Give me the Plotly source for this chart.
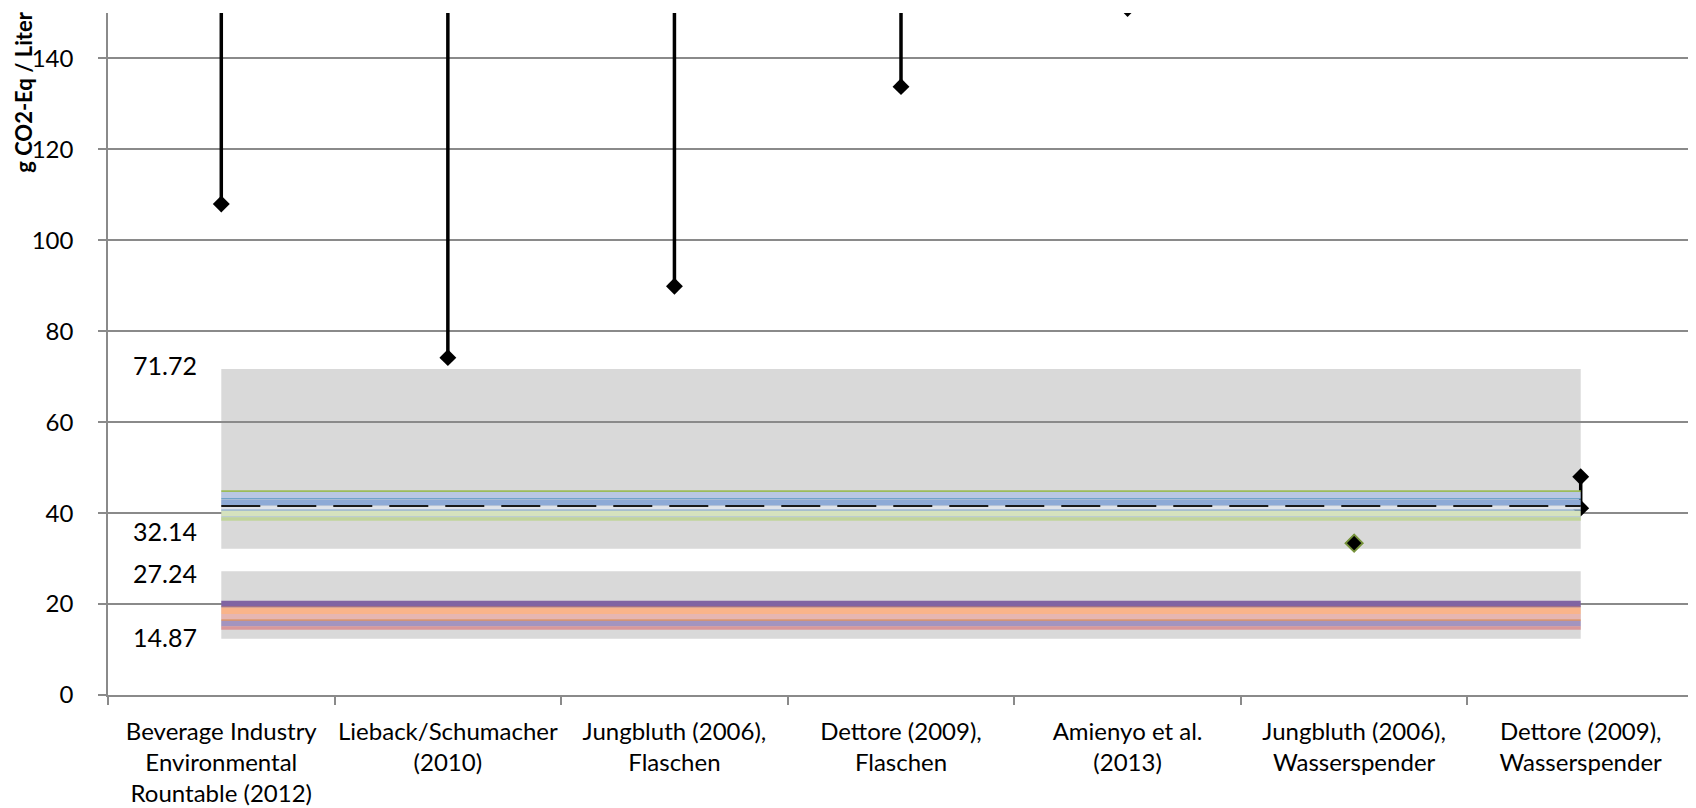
import plotly.graph_objects as go

# ---------------- data ----------------
categories = [
    "Beverage Industry<br>Environmental<br>Rountable (2012)",
    "Lieback/Schumacher<br>(2010)",
    "Jungbluth (2006),<br>Flaschen",
    "Dettore (2009),<br>Flaschen",
    "Amienyo et al.<br>(2013)",
    "Jungbluth (2006),<br>Wasserspender",
    "Dettore (2009),<br>Wasserspender",
]
range_low = [108.0, 74.2, 89.9, 133.8, 151.0, 33.4, 41.1]
range_high = [260.0, 260.0, 260.0, 260.0, 260.0, 33.4, 48.0]

# gray ranges (bottom, top)
box_bottom = [32.14, 12.37]
box_top = [71.72, 27.24]
box_label_values = [71.72, 32.14, 27.24, 14.87]
box_label_texts = ["71.72", "32.14", "27.24", "14.87"]

# horizontal level series (constant over categories)
upper_levels = [44.85, 43.99, 43.18, 42.36, 41.13, 40.65, 39.92, 39.17, 38.71]
mean_level = 41.57
lower_levels = [20.07, 19.35, 18.49, 17.21, 16.48, 15.71, 14.72]

y_ticks = [0, 20, 40, 60, 80, 100, 120, 140]

# ---------------- styles ----------------
upper_styles = [
    ("#9bbb59", 1.6), ("#b8c7e2", 6.0), ("#6fa3c9", 1.4), ("#8eaad6", 6.0),
    ("#dfe3ea", 3.5), ("#7fa4cf", 1.3), ("#d5e2be", 5.7), ("#a9c4cc", 1.0),
    ("#c1d49b", 3.4),
]
lower_styles = [
    ("#8064a2", 6.0), ("#b0605a", 1.2), ("#f9b48a", 6.3), ("#e6b6b1", 5.4),
    ("#e07b39", 1.3), ("#a394bf", 5.7), ("#d9979a", 3.4),
]
marker_outline = ["#000000"] * 5 + ["#77933c", "#000000"]

FONT = "Lato"
x_idx = list(range(len(categories)))

fig = go.Figure()

# high-low lines with diamond markers
for i in x_idx:
    fig.add_trace(go.Scatter(
        x=[i, i], y=[range_low[i], range_high[i]],
        mode="lines+markers",
        line=dict(color="#000000", width=3.5),
        marker=dict(symbol="diamond", size=13, color="#000000",
                    line=dict(color=marker_outline[i], width=1.8 if i == 5 else 0)),
        showlegend=False, hoverinfo="y",
    ))

# level bands
for v, (c, w) in zip(upper_levels, upper_styles):
    fig.add_trace(go.Scatter(x=[x_idx[0], x_idx[-1]], y=[v, v], mode="lines",
                             line=dict(color=c, width=w), showlegend=False))
fig.add_trace(go.Scatter(x=[x_idx[0], x_idx[-1]], y=[mean_level, mean_level], mode="lines",
                         line=dict(color="#1a1a1a", width=2, dash="39px,17px"),
                         showlegend=False))
for v, (c, w) in zip(lower_levels, lower_styles):
    fig.add_trace(go.Scatter(x=[x_idx[0], x_idx[-1]], y=[v, v], mode="lines",
                             line=dict(color=c, width=w), showlegend=False))

# gray range boxes (below gridlines)
for b, t in zip(box_bottom, box_top):
    fig.add_shape(type="rect", xref="x", yref="y", x0=x_idx[0], x1=x_idx[-1],
                  y0=b, y1=t, fillcolor="#d9d9d9", line=dict(width=0), layer="below")

# range labels
label_shifts = [4, 18, -2, -10]
for v, txt, s in zip(box_label_values, box_label_texts, label_shifts):
    fig.add_annotation(x=-0.25, y=v, xref="x", yref="y", text=txt, showarrow=False,
                       yshift=s, font=dict(family=FONT, size=25, color="#000000"))

# y axis title (top-aligned near the top of the figure)
fig.add_annotation(xref="paper", yref="paper", x=-0.0534, y=1 + 3 / 682, yanchor="top",
                   xanchor="center", text="<b>g CO2-Eq / Liter</b>", textangle=-90,
                   showarrow=False, font=dict(family=FONT, size=22, color="#000000"))

# page body has an 8px margin -> figure is 8px smaller and margins shifted
fig.update_layout(
    width=1688, height=800,
    margin=dict(l=100, r=2, t=5, b=113, autoexpand=False),
    plot_bgcolor="#ffffff", paper_bgcolor="#ffffff",
    font=dict(family=FONT, size=24, color="#000000"),
    showlegend=False,
)
fig.update_xaxes(
    range=[-0.5, 6.5], tickmode="array", tickvals=x_idx, ticktext=categories,
    ticks="", showgrid=False, zeroline=False, automargin=False,
    showline=True, linecolor="#8a8a8a", linewidth=1.5,
    ticklabelstandoff=14,
    tickfont=dict(family=FONT, size=24, color="#000000"),
    minor=dict(tickmode="array", tickvals=[i - 0.5 for i in x_idx] + [x_idx[-1] + 0.5],
               ticks="outside", ticklen=8, tickcolor="#8a8a8a", tickwidth=1.5, showgrid=False),
)
fig.update_yaxes(
    range=[0, 150], tickmode="array", tickvals=y_ticks, automargin=False,
    showgrid=True, gridcolor="#8a8a8a", gridwidth=1.5, zeroline=False,
    showline=True, linecolor="#8a8a8a", linewidth=1.5,
    ticks="outside", ticklen=8, tickcolor="#8a8a8a", tickwidth=1.5,
    ticklabelstandoff=20,
    tickfont=dict(family=FONT, size=24, color="#000000"),
)

fig.write_html("out.html")
